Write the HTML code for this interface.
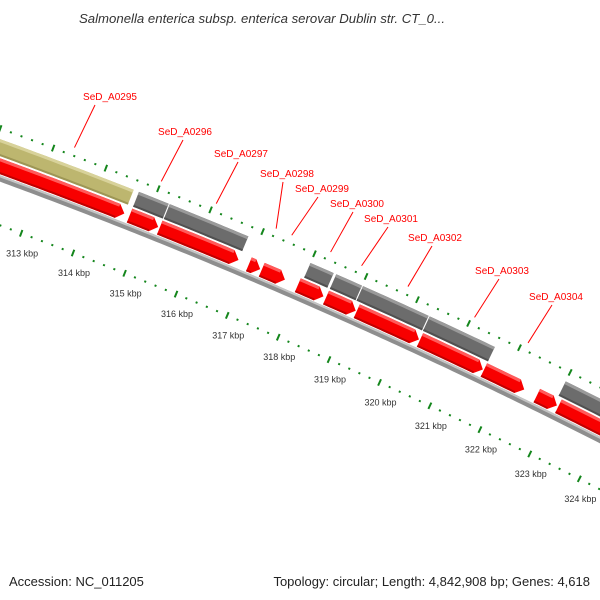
<!DOCTYPE html>
<html><head><meta charset="utf-8"><style>
html,body{margin:0;padding:0;background:#fff;}
svg{display:block;font-family:"Liberation Sans","DejaVu Sans",sans-serif;}
</style></head><body>
<svg id="map" width="600" height="600" viewBox="0 0 600 600" xmlns="http://www.w3.org/2000/svg">
<rect width="600" height="600" fill="#fff"/>
<text x="262" y="23" text-anchor="middle" font-size="13" font-style="italic" fill="#333" textLength="366" lengthAdjust="spacingAndGlyphs">Salmonella enterica subsp. enterica serovar Dublin str. CT_0...</text>
<g id="tracks"></g>
<g id="ticks"></g>
<g id="labels"></g>
<text x="9" y="586" font-size="13" fill="#222">Accession: NC_011205</text>
<text x="590" y="586" text-anchor="end" font-size="13" fill="#222">Topology: circular; Length: 4,842,908 bp; Genes: 4,618</text>
</svg>
<script>
// ---- data (kbp) ----
const khakiFeatures = [[309.0, 314.6]];
const grayFeatures = [[314.7,315.27],[315.29,316.8],[318.0,318.45],[318.5,319.0],[319.02,320.3],[320.32,321.6],[323.0,327.0]];
const redFeatures = [[309.0,314.6],[314.7,315.25],[315.28,316.8],[317.0,317.22],[317.25,317.7],[317.95,318.45],[318.5,319.08],[319.1,320.32],[320.34,321.58],[321.6,322.4],[322.65,323.05],[323.08,327.0]];
const tickKbpLabels = [312,313,314,315,316,317,318,319,320,321,322,323,324,325];
const geneNames = ["SeD_A0295","SeD_A0296","SeD_A0297","SeD_A0298","SeD_A0299","SeD_A0300","SeD_A0301","SeD_A0302","SeD_A0303","SeD_A0304"];
const geneKbp = [313.35,315.0,316.05,317.2,317.5,318.25,318.85,319.75,321.05,322.1];
const labelTextX = [110,185,241,287,322,357,391,435,502,556];
const labelTextY = [100,135,157,177,192,207,222,241,274,300];
const labelLineEndX = [95,183,238,283,318,353,388,432,499,552];
const labelLineEndY = [105,140,162,182,197,212,227,246,279,305];

// ---- axis functions ----
const CX=-1919, CY=5400, PHI0=-1.1563, K=0.01005;
function ang(kbp){return PHI0+(kbp-318.5)*K;}
function pos(kbp,r){const a=ang(kbp);return [CX+r*Math.cos(a), CY+r*Math.sin(a)];}
const NS="http://www.w3.org/2000/svg";
function mk(tag,attrs,parent){const e=document.createElementNS(NS,tag);for(const k in attrs)e.setAttribute(k,attrs[k]);parent.appendChild(e);return e;}
function arcPts(k1,k2,r){const pts=[];const n=Math.max(2,Math.ceil((k2-k1)/0.1));for(let i=0;i<=n;i++){pts.push(pos(k1+(k2-k1)*i/n,r));}return pts;}
function bandPath(k1,k2,r1,r2){const a=arcPts(k1,k2,r2),b=arcPts(k1,k2,r1).reverse();return "M"+a.concat(b).map(p=>p[0].toFixed(2)+","+p[1].toFixed(2)).join("L")+"Z";}
function arrowPath(k1,k2,r1,r2,head){const kb=Math.max(k1,k2-head);const a=arcPts(k1,kb,r2);const tip=pos(k2,(r1+r2)/2);const b=arcPts(k1,kb,r1).reverse();return "M"+a.concat([tip]).concat(b).map(p=>p[0].toFixed(2)+","+p[1].toFixed(2)).join("L")+"Z";}

const tracks=document.getElementById('tracks');
// backbone
let bb=mk('path',{d:bandPath(305,330,5560,5566),fill:'#8e8e8e'},tracks);


let bbh=mk('path',{d:bandPath(305,330,5564,5566),fill:'#c4c4c4'},tracks);



function drawBars(list,r1,r2,base,light,dark,name){
  list.forEach((f,i)=>{
    const g=mk('g',{},tracks);
    
    
    mk('path',{d:bandPath(f[0],f[1],r1,r2),fill:base},g);
    mk('path',{d:bandPath(f[0],f[1],r2-3,r2),fill:light},g);
    mk('path',{d:bandPath(f[0],f[1],r1,r1+2),fill:dark},g);
  });
}
drawBars(khakiFeatures,5584,5600,'#bdb66f','#d8d29a','#9d9655','khaki-feature');
drawBars(grayFeatures,5584,5600,'#6c6c6c','#9a9a9a','#505050','gray-feature');
redFeatures.forEach((f,i)=>{
  const g=mk('g',{},tracks);
  
  
  mk('path',{d:arrowPath(f[0],f[1],5567,5582,0.13),fill:'#f80000'},g);
  mk('path',{d:bandPath(f[0],Math.max(f[0],f[1]-0.13),5579,5582),fill:'#ff5a5a'},g);
  mk('path',{d:bandPath(f[0],Math.max(f[0],f[1]-0.13),5567,5569),fill:'#c00000'},g);
});

// ticks
const ticks=document.getElementById('ticks');
for(let i=0;i<=90;i++){
  const k=308+i*0.2;
  const major=(i%5===0);
  [[5519,'inner'],[5610,'outer']].forEach(([r,nm])=>{
    const p1=pos(k,major?r-3.5:r-1),p2=pos(k,major?r+3.5:r+1);
    const l=mk('line',{x1:p1[0],y1:p1[1],x2:p2[0],y2:p2[1],stroke:'#14861c','stroke-width':2},ticks);
    
    
  });
}
tickKbpLabels.forEach(k=>{
  const p=pos(k,5519);
  const t=mk('text',{x:p[0]+1,y:p[1]+23,'text-anchor':'middle','font-size':'9',fill:'#333'},ticks);
  t.textContent=k+' kbp';
  
  
});

// labels
const labels=document.getElementById('labels');
geneNames.forEach((n,i)=>{
  const p=pos(geneKbp[i],5618);
  const l=mk('line',{x1:p[0],y1:p[1],x2:labelLineEndX[i],y2:labelLineEndY[i],stroke:'#f00','stroke-width':1},labels);
  
  
  const t=mk('text',{x:labelTextX[i],y:labelTextY[i],'text-anchor':'middle','font-size':'10',fill:'#f00'},labels);
  t.textContent=n;
  
  
});
</script>
</body></html>
